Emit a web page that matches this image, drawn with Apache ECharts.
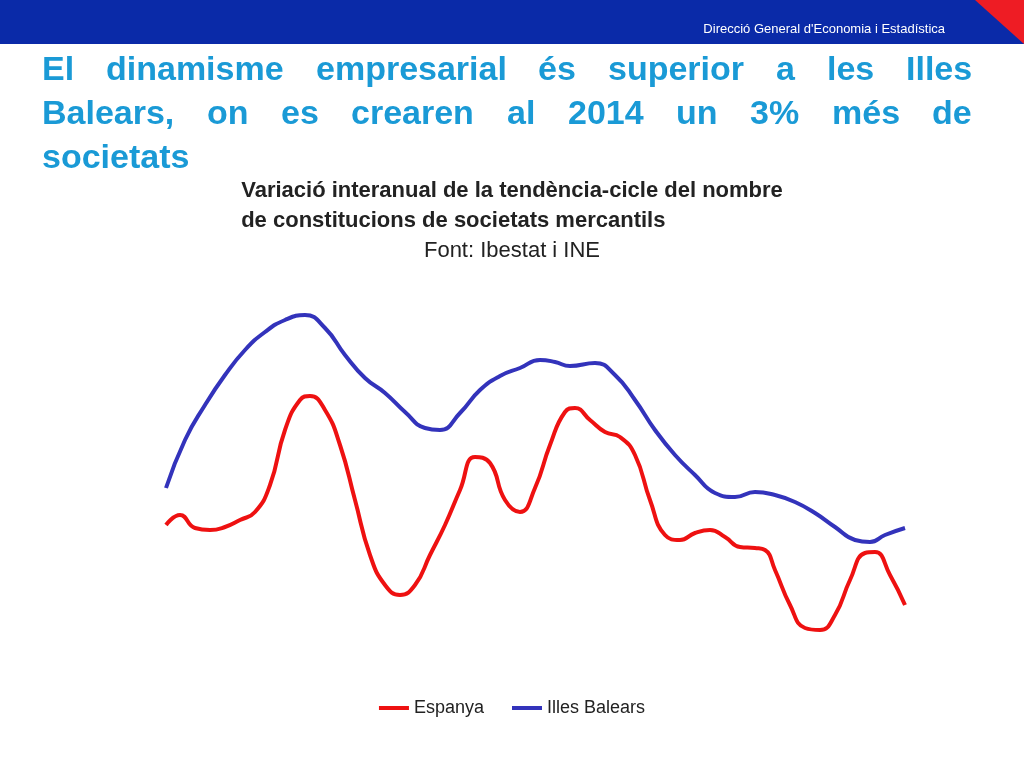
<!DOCTYPE html><html><head><meta charset="utf-8"><script src="https://cdn.jsdelivr.net/npm/echarts@6/dist/echarts.min.js"></script></head><body style="margin:0"><div id="c" style="width:1024px;height:768px"></div><script>
// x positions are time index, y values estimated from picture (arbitrary units, higher = lower on chart)
const balearsX=[166,185,205,225,245,265,285,305,325,345,365,385,405,425,440,460,480,500,520,540,555,570,595,615,635,655,675,695,715,735,755,775,795,815,835,855,870,885,905];
const balearsY=[488,440,405,375,350,332,320,315,328,355,378,393,412,428,430,413,390,376,368,360,362,366,363,375,400,430,455,475,493,497,492,495,502,513,527,540,542,535,528];
const espanyaX=[166,180,195,210,225,240,255,270,285,300,310,325,340,355,370,385,400,415,430,445,460,475,490,505,520,535,550,565,575,590,605,620,635,650,665,680,695,710,725,740,755,765,775,790,805,820,835,850,865,875,890,905];
const espanyaY=[525,515,528,530,527,520,512,485,430,400,396,410,445,500,555,585,595,585,555,525,490,457,463,500,512,488,445,412,408,420,432,437,455,500,535,540,533,530,537,547,548,550,570,605,628,630,615,580,553,552,575,605];
const titleLines=['El dinamisme empresarial és superior a les Illes','Balears, on es crearen al 2014 un 3% més de'];
const titleLast='societats';
const zip=(a,b)=>a.map((v,i)=>[v,b[i]]);
const F='"Liberation Sans", Arial, sans-serif';
const tfont='bold 34px '+F;
const ctx=document.createElement('canvas').getContext('2d');ctx.font=tfont;
const graphic=[
  {type:'rect',shape:{x:0,y:0,width:1024,height:44},style:{fill:'#0a2aa8'}},
  {type:'polygon',shape:{points:[[975,0],[1024,0],[1024,44]]},style:{fill:'#ee1c24'}},
  {type:'text',right:79,top:23,style:{text:"Direcció General d'Economia i Estadística",fill:'#fff',font:'13px '+F}},
  {type:'text',left:42,top:142,style:{text:titleLast,fill:'#1a9ad6',font:tfont}},
  {type:'text',left:'center',top:176,style:{text:'Variació interanual de la tendència-cicle del nombre\nde constitucions de societats mercantils',fill:'#222',font:'bold 22px '+F,lineHeight:30,align:'center'}},
  {type:'text',left:'center',top:240,style:{text:'Font: Ibestat i INE',fill:'#222',font:'22px '+F,align:'center'}}
];
titleLines.forEach((ln,li)=>{
  const w=ln.split(' ');const ws=w.map(s=>ctx.measureText(s).width);
  const gap=(972-42-ws.reduce((a,b)=>a+b,0))/(w.length-1);
  let x=42;
  w.forEach((s,i)=>{graphic.push({type:'text',left:Math.round(x),top:54+li*44,style:{text:s,fill:'#1a9ad6',font:tfont}});x+=ws[i]+gap;});
});
const ch=echarts.init(document.getElementById('c'));
ch.setOption({
 animation:false,graphic,
 legend:{bottom:46,left:'center',itemWidth:30,itemGap:28,icon:'rect',itemHeight:4,textStyle:{fontSize:18,fontFamily:F,color:'#222'},data:['Espanya','Illes Balears']},
 grid:{left:166,right:119,top:300,bottom:118},
 xAxis:{type:'value',min:166,max:905,show:false},
 yAxis:{type:'value',min:300,max:650,inverse:true,show:false},
 series:[
  {name:'Espanya',type:'line',smooth:true,showSymbol:false,data:zip(espanyaX,espanyaY),lineStyle:{color:'#ee1111',width:4},itemStyle:{color:'#ee1111'}},
  {name:'Illes Balears',type:'line',smooth:true,showSymbol:false,data:zip(balearsX,balearsY),lineStyle:{color:'#3333bb',width:4},itemStyle:{color:'#3333bb'}}
 ]
});
</script></body></html>
